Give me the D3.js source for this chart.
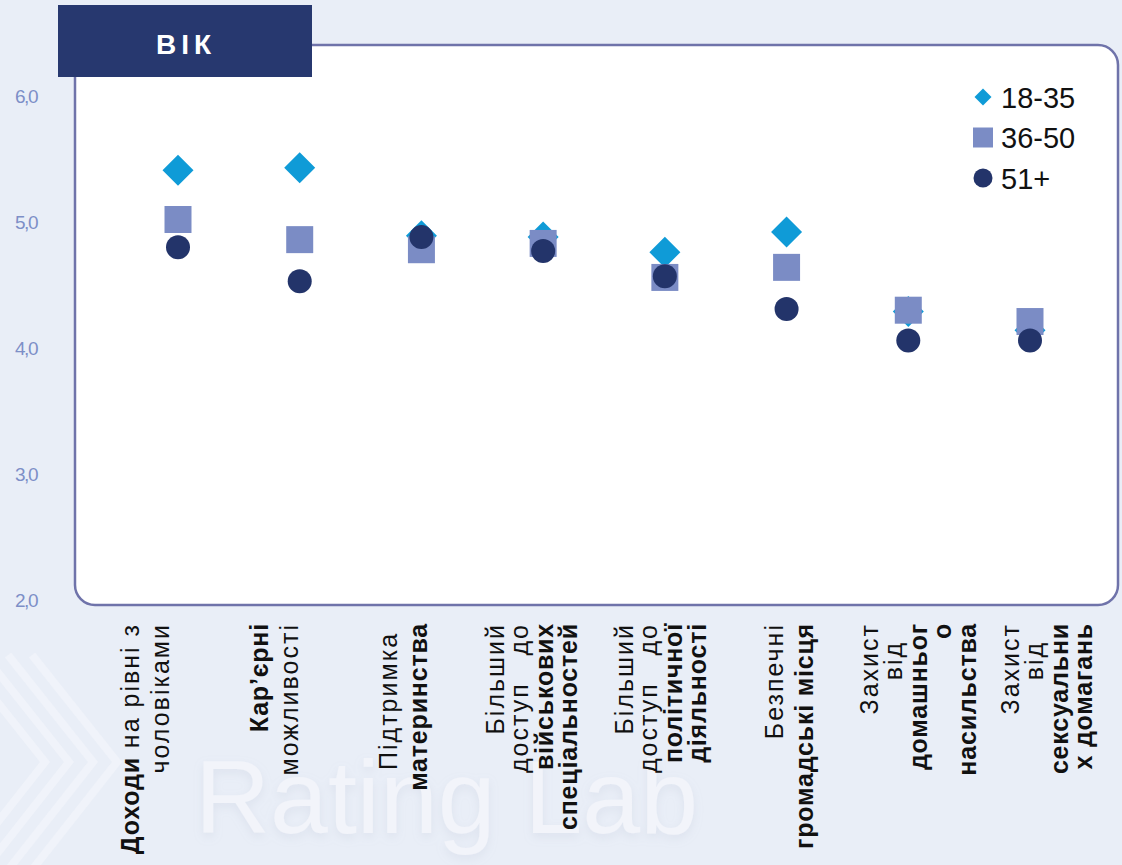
<!DOCTYPE html>
<html>
<head>
<meta charset="utf-8">
<script src="https://cdn.jsdelivr.net/npm/d3@7"></script>
<style>
  html, body { margin: 0; padding: 0; background: #e9eef7; }
  svg { display: block; }
  text { font-family: "Liberation Sans", Arial, sans-serif; }
</style>
</head>
<body>
<div id="chart"></div>
<script>
// categories (short keys) and their wrapped axis labels, **...** = bold
const categories = ["income", "career", "maternity", "military", "politics", "spaces", "domestic", "harassment"];
const labelLines = [
  ["**Доходи** на рівні з", "чоловіками"],
  ["**Кар’єрні**", "можливості"],
  ["Підтримка ", "**материнства**"],
  ["Більший", "доступ   до", "**військових**", "**спеціальностей**"],
  ["Більший", "доступ   до", "**політичної**", "**діяльності**"],
  ["Безпечні", "**громадські місця**"],
  ["Захист", "від  ", "**домашньог**", "**о**", "**насильства**"],
  ["Захист", "від  ", "**сексуальни**", "**х домагань**"]
];

const seriesNames = ["18-35", "36-50", "51+"];
const age18to35 = [5.41, 5.43, 4.89, 4.88, 4.76, 4.92, 4.29, 4.14];
const age36to50 = [5.02, 4.86, 4.78, 4.83, 4.56, 4.64, 4.30, 4.21];
const age51plus = [4.80, 4.53, 4.88, 4.77, 4.57, 4.31, 4.06, 4.06];
const yTicks = [2, 3, 4, 5, 6];
const title = "ВІК";

const width = 1122, height = 865;
const colors = ["#0f9bd7", "#7b8cc5", "#23346a"];

const svg = d3.select("#chart").append("svg")
  .attr("width", width)
  .attr("height", height);

const defs = svg.append("defs");
const shadow = defs.append("filter").attr("id", "wm").attr("x", "-5%").attr("y", "-20%").attr("width", "110%").attr("height", "140%");
shadow.append("feDropShadow").attr("dx", 0).attr("dy", 4).attr("stdDeviation", 5)
  .attr("flood-color", "#a4acc4").attr("flood-opacity", 0.18);

// watermark
const wm = svg.append("g");
[0, 1, 2, 3].forEach(function (i) {
  wm.append("path")
    .attr("d", `M${-40 + i * 24},${655} L${45 + i * 24},${762} L${-40 + i * 24},${870}`)
    .attr("fill", "none")
    .attr("stroke", "#f1f4fa")
    .attr("stroke-opacity", 0.8)
    .attr("stroke-width", 8);
});
wm.append("text")
  .attr("x", 195)
  .attr("y", 833)
  .attr("font-size", 104)
  .attr("fill", "#f2f4fa")
  .attr("filter", "url(#wm)")
  .text("Rating Lab");

// plot frame
const frame = { x: 75, y: 45, w: 1043, h: 560 };
svg.append("rect")
  .attr("x", frame.x).attr("y", frame.y)
  .attr("width", frame.w).attr("height", frame.h)
  .attr("rx", 20)
  .attr("fill", "#ffffff")
  .attr("stroke", "#6f73aa")
  .attr("stroke-width", 2.5);

// scales
const x = d3.scalePoint().domain(categories).range([178, 1030]);
const xLab = d3.scaleBand().domain(categories).range([82, 1112]);
const y = d3.scaleLinear().domain([2, 6]).range([600, 96]);

// y tick labels
const fmt = d3.format(".1f");
svg.append("g").selectAll("text")
  .data(yTicks)
  .enter().append("text")
  .attr("x", 26)
  .attr("y", function (d) { return y(d) + 7; })
  .attr("text-anchor", "middle")
  .attr("font-size", 19)
  .attr("letter-spacing", -1.5)
  .attr("fill", "#7d8fc7")
  .text(function (d) { return fmt(d).replace(".", ","); });

// markers
const series = [
  { name: seriesNames[0], values: age18to35, shape: "diamond" },
  { name: seriesNames[1], values: age36to50, shape: "square" },
  { name: seriesNames[2], values: age51plus, shape: "circle" }
];

function drawMarker (g, shape, size, color) {
  if (shape === "circle") {
    g.append("circle").attr("r", size / 2).attr("fill", color);
  } else if (shape === "square") {
    g.append("path").attr("d", d3.symbol(d3.symbolSquare, size * size)()).attr("fill", color);
  } else {
    let side = size / Math.SQRT2;
    g.append("path").attr("d", d3.symbol(d3.symbolSquare, side * side)())
      .attr("transform", "rotate(45)").attr("fill", color);
  }
}

const markerSize = { diamond: 31, square: 27, circle: 24 };
series.forEach(function (s, si) {
  let g = svg.append("g").attr("class", "series-" + si);
  s.values.forEach(function (v, i) {
    let m = g.append("g").attr("transform", `translate(${x(categories[i])},${y(v)})`);
    drawMarker(m, s.shape, markerSize[s.shape], colors[si]);
  });
});

// legend
const legendSize = { diamond: 17, square: 20, circle: 19 };
const legend = svg.append("g").attr("transform", "translate(983,97)");
series.forEach(function (s, si) {
  let row = legend.append("g").attr("transform", `translate(0,${si * 40.5})`);
  drawMarker(row, s.shape, legendSize[s.shape], colors[si]);
  row.append("text")
    .attr("x", 18)
    .attr("y", 10.5)
    .attr("font-size", 29)
    .attr("fill", "#111")
    .text(s.name);
});

// title tab
svg.append("rect")
  .attr("x", 58).attr("y", 5)
  .attr("width", 254).attr("height", 72)
  .attr("fill", "#27386f");
svg.append("text")
  .attr("x", 186)
  .attr("y", 54)
  .attr("text-anchor", "middle")
  .attr("font-family", "'Open Sans', sans-serif")
  .attr("font-weight", 600)
  .attr("font-size", 28)
  .attr("letter-spacing", 5)
  .attr("fill", "#ffffff")
  .text(title);

// category labels, rotated, right aligned at the top
const labelTop = 623;
const labelG = svg.append("g");
categories.forEach(function (c, i) {
  let lines = labelLines[i];
  let n = lines.length;
  let lh = n > 2 ? 24.5 : 30;
  let cx = xLab(c) + xLab.bandwidth() / 2;
  lines.forEach(function (line, j) {
    let lx = cx + (j - (n - 1) / 2) * lh + 8;
    let t = labelG.append("text")
      .attr("transform", `translate(${lx},${labelTop}) rotate(-90)`)
      .attr("text-anchor", "end")
      .attr("font-size", 25)
      .attr("fill", "#111")
      .style("white-space", "pre");
    line.split(/(\*\*[^*]+\*\*)/).filter(function (p) { return p.length; }).forEach(function (part) {
      let bold = part.indexOf("**") === 0;
      t.append("tspan")
        .attr("font-weight", bold ? 700 : 400)
        .attr("letter-spacing", bold ? 0.8 : 2.0)
        .text(bold ? part.slice(2, -2) : part);
    });
  });
});
</script>
</body>
</html>
